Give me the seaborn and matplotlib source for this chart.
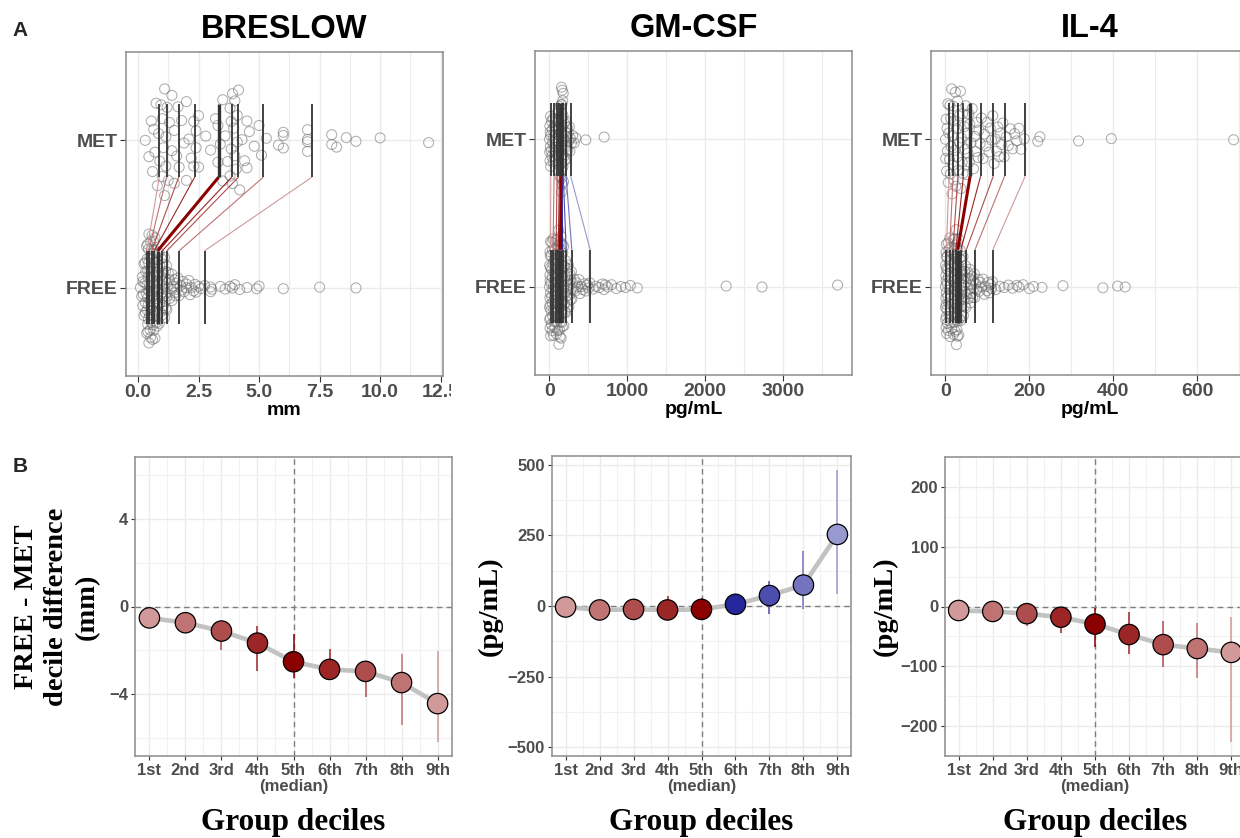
import numpy as np
import matplotlib
matplotlib.use("Agg")
import matplotlib.pyplot as plt
from matplotlib.transforms import Bbox, TransformedBbox, blended_transform_factory
import seaborn as sns

# raw values
breslow_free = [
    0.10, 0.15, 0.18, 0.20, 0.20, 0.22, 0.25, 0.25, 0.28, 0.30, 0.30, 0.30, 0.32, 0.34, 0.35,
    0.36, 0.37, 0.38, 0.38, 0.40, 0.40, 0.40, 0.40, 0.41, 0.42, 0.42, 0.43, 0.43, 0.44, 0.44,
    0.45, 0.45, 0.47, 0.48, 0.50, 0.50, 0.50, 0.50, 0.52, 0.52, 0.53, 0.54, 0.55, 0.55, 0.56,
    0.57, 0.58, 0.60, 0.60, 0.60, 0.60, 0.61, 0.62, 0.63, 0.64, 0.65, 0.65, 0.66, 0.67, 0.67,
    0.68, 0.70, 0.70, 0.70, 0.72, 0.73, 0.74, 0.75, 0.75, 0.76, 0.78, 0.79, 0.80, 0.80, 0.81,
    0.82, 0.85, 0.85, 0.87, 0.88, 0.90, 0.90, 0.90, 0.92, 0.94, 0.95, 0.96, 0.98, 1.00, 1.00,
    1.02, 1.05, 1.05, 1.08, 1.10, 1.10, 1.10, 1.12, 1.14, 1.15, 1.15, 1.16, 1.18, 1.19, 1.19,
    1.20, 1.25, 1.30, 1.30, 1.35, 1.40, 1.40, 1.45, 1.50, 1.50, 1.55, 1.60, 1.60, 1.65, 1.70,
    1.75, 1.80, 1.85, 1.90, 2.00, 2.00, 2.10, 2.15, 2.20, 2.30, 2.35, 2.40, 2.50, 2.60, 2.75,
    3.00, 3.00, 3.05, 3.40, 3.60, 3.80, 3.90, 4.00, 4.20, 4.50, 4.90, 5.00, 6.00, 7.50, 9.00]
breslow_met = [
    0.30, 0.45, 0.55, 0.60, 0.65, 0.70, 0.75, 0.80, 0.85,
    0.90, 0.95, 1.00, 1.00, 1.05, 1.10, 1.10, 1.15, 1.15,
    1.20, 1.25, 1.30, 1.40, 1.40, 1.50, 1.50, 1.60, 1.65,
    1.70, 1.80, 1.90, 2.00, 2.00, 2.10, 2.20, 2.30, 2.30,
    2.40, 2.40, 2.50, 2.50, 2.80, 3.00, 3.20, 3.30, 3.30,
    3.40, 3.50, 3.50, 3.60, 3.70, 3.80, 3.80, 3.85, 3.85,
    3.90, 3.90, 3.95, 4.00, 4.00, 4.05, 4.10, 4.10, 4.15,
    4.20, 4.30, 4.40, 4.50, 4.50, 4.60, 4.80, 5.00, 5.10,
    5.30, 5.80, 6.00, 6.00, 6.00, 7.00, 7.00, 7.00, 7.00,
    8.00, 8.00, 8.20, 8.60, 9.00, 10.00, 12.00]

gmcsf_free = [
    2, 4, 5, 6, 8, 8, 9, 10, 11, 12, 13, 14, 15, 15, 16,
    18, 20, 22, 25, 27, 30, 32, 34, 36, 38, 40, 42, 44, 46, 47,
    50, 53, 56, 58, 60, 63, 66, 68, 70, 73, 76, 79, 82, 85, 87,
    89, 91, 93, 95, 97, 99, 101, 103, 105, 107, 109, 111, 113, 114, 115,
    117, 119, 121, 123, 125, 127, 129, 131, 133, 135, 137, 139, 140, 141, 142,
    144, 146, 148, 150, 152, 154, 156, 158, 160, 162, 164, 166, 168, 169, 170,
    173, 176, 179, 182, 185, 188, 191, 194, 197, 200, 203, 206, 209, 212, 215,
    220, 225, 230, 235, 240, 245, 250, 255, 260, 265, 270, 275, 280, 285, 289,
    300, 310, 320, 335, 350, 365, 380, 395, 410, 430, 450, 470, 490, 505, 520,
    560, 600, 640, 680, 700, 720, 750, 800, 860, 920, 980, 1040, 1130, 2270, 2730, 3700]
gmcsf_met = [
    3, 6, 8, 10, 12, 14, 16, 18, 19,
    24, 28, 33, 38, 43, 48, 52, 56, 60,
    65, 70, 74, 78, 82, 86, 90, 94, 98,
    103, 107, 110, 113, 117, 120, 123, 126, 129,
    132, 135, 138, 141, 144, 147, 150, 152, 154,
    156, 157, 158, 159, 160, 161, 162, 163, 164,
    166, 168, 170, 171, 173, 175, 176, 178, 179,
    183, 187, 191, 195, 199, 203, 207, 211, 215,
    220, 226, 232, 238, 244, 250, 258, 265, 272,
    285, 300, 320, 340, 470, 705]

il4_free = [
    0.2, 0.5, 0.8, 1.0, 1.2, 1.4, 1.6, 1.8, 2.0, 2.0, 2.1, 2.2, 2.3, 2.3, 2.4,
    3, 3.5, 4, 4.5, 5, 5.5, 6, 6.5, 7, 7.5, 8, 8.5, 9, 9.5, 9.8,
    10.5, 11, 11.5, 12, 12.5, 13, 13.5, 14, 14.5, 15, 15.5, 16, 16.5, 17, 17.5,
    18.5, 19, 19.5, 20, 20.5, 21, 21.5, 22, 22.5, 23, 23.5, 24, 24.2, 24.5, 24.8,
    25.3, 25.6, 26, 26.3, 26.6, 27, 27.3, 27.6, 28, 28.3, 28.6, 28.8, 29, 29.2, 29.4,
    30, 30.5, 31, 31.5, 32, 32.5, 33, 33.5, 34, 34.5, 35, 35.5, 36, 36.5, 36.8,
    38, 39, 40, 41, 42, 43, 44, 45, 46, 46.5, 47, 47.5, 48, 49, 49.5,
    51, 53, 54, 55, 57, 58, 60, 61, 62, 64, 65, 66, 68, 69, 70,
    72, 75, 78, 80, 83, 86, 90, 93, 96, 99, 102, 105, 108, 110, 112,
    120, 130, 140, 150, 160, 170, 175, 185, 200, 210, 230, 280, 375, 410, 428]
il4_met = [
    0.5, 1, 2, 3, 4, 5, 6, 7, 8,
    10, 11, 12, 13, 14, 15, 16, 17, 18,
    19, 20, 21, 23, 24, 25, 27, 28, 29,
    31, 33, 34, 36, 37, 38, 40, 41, 42,
    45, 47, 49, 51, 53, 54, 56, 57, 58,
    61, 64, 67, 70, 72, 75, 78, 80, 83,
    86, 90, 93, 97, 100, 104, 107, 110, 113,
    116, 119, 122, 125, 128, 131, 134, 137, 140,
    145, 150, 155, 160, 165, 170, 175, 180, 188,
    220, 225, 317, 395, 686]

# group deciles
breslow_free_dec = [0.36, 0.44, 0.56, 0.67, 0.81, 1.00, 1.19, 1.70, 2.75]
breslow_met_dec = [0.88, 1.18, 1.68, 2.34, 3.33, 3.87, 4.15, 5.17, 7.18]
gmcsf_free_dec = [16.5, 48, 88, 116, 143, 171, 217, 290, 525]
gmcsf_met_dec = [20, 62, 100, 130, 155, 165, 180, 216, 275]
il4_free_dec = [2.4, 10, 18, 25, 29.5, 37, 50, 70.5, 113]
il4_met_dec = [9, 18.5, 30, 43, 59, 84, 114, 141, 190]

# FREE - MET decile differences with confidence intervals
breslow_diff = [-0.52, -0.74, -1.12, -1.67, -2.52, -2.87, -2.96, -3.47, -4.43]
breslow_lo = [-0.75, -1.15, -2.00, -2.93, -3.25, -3.35, -4.12, -5.39, -6.20]
breslow_hi = [-0.30, -0.45, -0.65, -0.88, -1.27, -1.92, -2.50, -2.15, -2.05]
gmcsf_diff = [-3.5, -14, -12, -14, -12, 6, 37, 74, 253]
gmcsf_lo = [-15, -30, -47, -47, -41, -29, -27, -9, 44]
gmcsf_hi = [5, 0, 5, 35, 29, 44, 90, 195, 482]
il4_diff = [-6.7, -8.3, -12, -18, -29.5, -47, -64, -70.5, -77]
il4_lo = [-12, -14, -33, -45, -68, -80, -102, -120, -228]
il4_hi = [-2, -3, 0, 0, -3, -10, -24, -28, -18]

decile_names = ["1st", "2nd", "3rd", "4th", "5th", "6th", "7th", "8th", "9th"]
titles = ["BRESLOW", "GM-CSF", "IL-4"]
units = ["mm", "pg/mL", "pg/mL"]

W, H = 1240, 838
TXT = "#4D4D4D"
SANS = ["Liberation Sans", "DejaVu Sans"]
SERIF = ["Liberation Serif", "DejaVu Serif"]

sns.set_theme(style="white")
plt.rcParams["font.family"] = SANS
plt.rcParams["axes.edgecolor"] = "#8C8C8C"
plt.rcParams["axes.linewidth"] = 1.1


def vdc_seq(n):
    out = []
    for i in range(1, n + 1):
        v, den, k = 0.0, 1.0, i
        while k:
            den *= 2
            k, r = divmod(k, 2)
            v += r / den
        out.append(v)
    return np.array(out)


def quasirandom(vals, width=0.4):
    # beeswarm-like vertical offsets, scaled by the local density
    x = np.asarray(vals, float)
    n = len(x)
    q75, q25 = np.percentile(x, [75, 25])
    bw = 0.5 * 0.9 * min(x.std(ddof=1), (q75 - q25) / 1.34) * n ** -0.2
    dens = np.exp(-0.5 * ((x[:, None] - x[None, :]) / bw) ** 2).sum(1)
    dens = dens / dens.max()
    ranks = np.argsort(np.argsort(x, kind="stable"), kind="stable")
    return (vdc_seq(n)[ranks] - 0.5) * 2 * width * dens


def shade(d, k):
    base = np.array([139, 0, 0]) if d < 0 else np.array([0, 0, 139])
    a = 1 - 0.15 * abs(k - 4)
    return tuple((a * base + (1 - a) * 255) / 255)


def px_axes(l, t, r, b):
    return fig.add_axes([l / W, 1 - b / H, (r - l) / W, (b - t) / H])


fig = plt.figure(figsize=(W / 100, H / 100), dpi=100)

top_rects = [(126, 52, 443, 376), (535, 51, 852, 375), (931, 51, 1248, 375)]
bot_rects = [(135, 457, 452, 756), (552, 456, 851, 756), (945, 457, 1245, 756)]
raw = [(breslow_free, breslow_met), (gmcsf_free, gmcsf_met), (il4_free, il4_met)]
decs = [(breslow_free_dec, breslow_met_dec), (gmcsf_free_dec, gmcsf_met_dec),
        (il4_free_dec, il4_met_dec)]
diffs = [(breslow_diff, breslow_lo, breslow_hi), (gmcsf_diff, gmcsf_lo, gmcsf_hi),
         (il4_diff, il4_lo, il4_hi)]
x_ticks = [[0, 2.5, 5, 7.5, 10, 12.5], [0, 1000, 2000, 3000], [0, 200, 400, 600]]
x_minor = [np.arange(1.25, 13, 2.5), np.arange(500, 4000, 1000), np.arange(100, 800, 200)]
x_fmt = ["{:.1f}", "{:.0f}", "{:.0f}"]
y_ticks = [[-4, 0, 4], [-500, -250, 0, 250, 500], [-200, -100, 0, 100, 200]]
y_minor = [[-6, -2, 2, 6], [-375, -125, 125, 375], [-250, -150, -50, 50, 150, 250]]
y_labels = ["FREE - MET\ndecile difference\n(mm)", "(pg/mL)", "(pg/mL)"]
y_label_x = [57, 490, 885]

# A: strip plots with decile links
for i in range(3):
    ax = px_axes(*top_rects[i])
    free, met = raw[i]
    fdec, mdec = decs[i]
    d = diffs[i][0]
    for vals, ypos in [(free, 1), (met, 2)]:
        sns.scatterplot(x=vals, y=ypos + quasirandom(vals), ax=ax, s=52,
                        facecolors="none", edgecolor=(0.42, 0.42, 0.42, 0.55),
                        linewidth=0.75, zorder=2)
    for k in range(9):
        lw = 2.2 if k == 4 else 0.8
        ax.plot([fdec[k], mdec[k]], [1.25, 1.75], color=shade(d[k], k),
                lw=lw, zorder=3, solid_capstyle="butt")
        vlw = 2.4 if k == 4 else 1.3
        ax.vlines(fdec[k], 0.75, 1.25, color="#333333", lw=vlw, zorder=4)
        ax.vlines(mdec[k], 1.75, 2.25, color="#333333", lw=vlw, zorder=4)
    allv = np.concatenate([free, met])
    span = allv.max() - allv.min()
    ax.set_xlim(allv.min() - 0.05 * span, allv.max() + 0.05 * span)
    ax.set_ylim(0.4, 2.6)
    ax.set_yticks([1, 2])
    ax.set_yticklabels(["FREE", "MET"])
    ax.set_xticks(x_ticks[i])
    ax.set_xticklabels([x_fmt[i].format(t) for t in x_ticks[i]])
    ax.set_xticks(x_minor[i], minor=True)
    ax.set_axisbelow(True)
    ax.grid(True, which="major", color="#EBEBEB", lw=1.0)
    ax.grid(True, which="minor", axis="x", color="#EBEBEB", lw=0.8)
    ax.tick_params(which="major", bottom=True, left=True, length=4, width=0.8,
                   color="#333333", labelsize=14, labelcolor=TXT, pad=2)
    ax.tick_params(which="minor", length=0)
    for lab in ax.get_xticklabels() + ax.get_yticklabels():
        lab.set_fontweight("bold")
    ax.set_title(titles[i], fontsize=23.5, fontweight="bold", color="black", pad=10)
    ax.set_xlabel(units[i], fontsize=14, fontweight="bold", color="black", va="center")
    ax.xaxis.set_label_coords(0.5, -0.105)
    ax.set_ylabel("")
    if i == 0:
        top_ax0 = ax

# B: shift functions
for i in range(3):
    ax = px_axes(*bot_rects[i])
    d, lo, hi = diffs[i]
    pos = list(range(1, 10))
    cols = [shade(d[k], k) for k in range(9)]
    ax.axhline(0, color="#7F7F7F", lw=1.0, ls=(0, (4, 3)), zorder=1)
    ax.axvline(5, color="#7F7F7F", lw=1.0, ls=(0, (4, 3)), zorder=1)
    sns.lineplot(x=pos, y=d, ax=ax, color="#C2C2C2", lw=3.3, zorder=2)
    ax.vlines(pos, lo, hi, colors=cols, lw=1.1, zorder=3)
    sns.scatterplot(x=pos, y=d, hue=decile_names, palette=dict(zip(decile_names, cols)),
                    ax=ax, s=215, edgecolor="black", linewidth=0.9, legend=False, zorder=4)
    lim = 1.1 * max(abs(v) for v in lo + hi)
    ax.set_ylim(-lim, lim)
    ax.set_xlim(0.6, 9.4)
    ax.set_xticks(pos)
    ax.set_xticklabels(decile_names)
    ax.set_xticks(np.arange(1.5, 9, 1), minor=True)
    ax.set_yticks(y_ticks[i])
    ax.set_yticks(y_minor[i], minor=True)
    ax.set_axisbelow(True)
    ax.grid(True, which="major", color="#EBEBEB", lw=1.0)
    ax.grid(True, which="minor", color="#F2F2F2", lw=0.8)
    ax.tick_params(which="major", bottom=True, left=True, length=3, width=0.8,
                   color="#333333", labelsize=12, labelcolor=TXT, pad=2)
    ax.tick_params(which="minor", length=0)
    for lab in ax.get_xticklabels() + ax.get_yticklabels():
        lab.set_fontweight("bold")
    ax.text(5, -0.103, "(median)", transform=blended_transform_factory(ax.transData, ax.transAxes),
            ha="center", va="center", fontsize=12, fontweight="bold", color=TXT)
    ax.set_xlabel("Group deciles", fontsize=22.5, fontweight="bold", family=SERIF,
                  color="black", va="center")
    ax.xaxis.set_label_coords(0.5, -0.222)
    ax.set_ylabel(y_labels[i], fontsize=20.5, fontweight="bold", family=SERIF,
                  color="black", va="center", ha="center", multialignment="center",
                  linespacing=1.3)
    left = bot_rects[i][0]
    width = bot_rects[i][2] - left
    ax.yaxis.set_label_coords((y_label_x[i] - left) / width, 0.5)

fig.text(20 / W, 1 - 30 / H, "A", fontsize=15, fontweight="bold", ha="center", va="center")
fig.text(20 / W, 1 - 466 / H, "B", fontsize=15, fontweight="bold", ha="center", va="center")

# the last Breslow tick label is cut by the neighbouring panel
fig.canvas.draw()
clip = TransformedBbox(Bbox.from_extents(0, 0, 451 / W, 1), fig.transFigure)
for lab in top_ax0.get_xticklabels():
    lab.set_clip_box(clip)
    lab.set_clip_on(True)

fig.savefig("out.png", dpi=100)
